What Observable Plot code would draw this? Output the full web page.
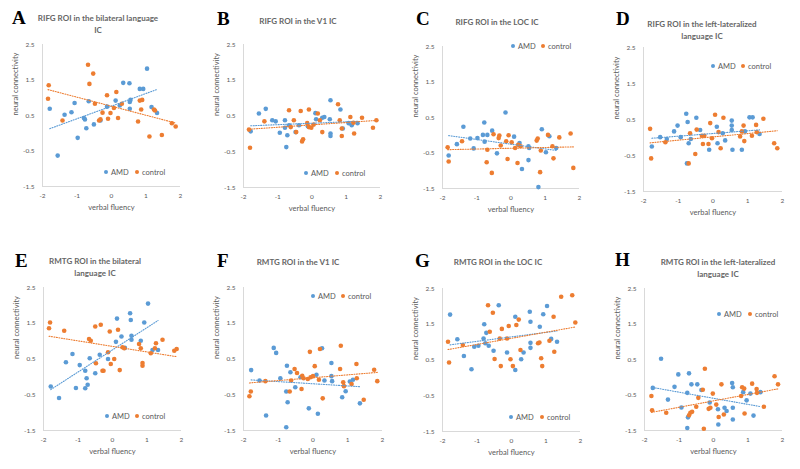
<!DOCTYPE html>
<html><head><meta charset="utf-8">
<script src="https://cdn.jsdelivr.net/npm/d3@7"></script>
<script src="https://cdn.jsdelivr.net/npm/@observablehq/plot@0.6"></script>
<style>
body{margin:0;background:#fff;}
#wrap{position:relative;width:800px;height:469px;overflow:hidden;font-family:Lato,"Open Sans",sans-serif;}
.panel{position:absolute;width:200px;height:235px;}
.panel svg{position:absolute;left:0;top:0;}
.letter{position:absolute;font-family:"Liberation Serif","DejaVu Serif",serif;font-weight:bold;font-size:19px;color:#000;line-height:19px;}
.title{position:absolute;transform:translateX(-50%);text-align:center;font-weight:bold;font-size:8px;color:#666;line-height:12px;white-space:nowrap;}
.leg{position:absolute;font-size:7.5px;color:#595959;white-space:nowrap;line-height:10px;}
.leg i{display:inline-block;width:4px;height:4px;border-radius:50%;margin-right:3px;vertical-align:1px;}
</style></head><body><div id="wrap"></div>
<script>
// ---------- data ----------
const seriesNames = ["AMD", "control"];
const xTicks = [-2, -1, 0, 1, 2];
const yTicks = [-1.5, -0.5, 0.5, 1.5, 2.5];
const letters = ["A","B","C","D","E","F","G","H"];
const titles = [
  ["RIFG ROI in the bilateral language","IC"],
  ["RIFG ROI in the V1 IC"],
  ["RIFG ROI in the LOC IC"],
  ["RIFG ROI in the left-lateralized","language IC"],
  ["RMTG ROI in the bilateral","language IC"],
  ["RMTG ROI in the V1 IC"],
  ["RMTG ROI in the LOC IC"],
  ["RMTG ROI in the left-lateralized","language IC"]
];
const xLabel = "verbal fluency";
const yLabel = "neural connectivity";

const A_AMD = [[-1.79,0.69],[-1.56,-0.63],[-1.36,0.52],[-1.16,0.59],[-1.07,0.85],[-0.98,-0.13],[-0.80,0.43],[-0.77,0.39],[-0.73,0.14],[-0.66,0.90],[-0.51,0.25],[-0.32,0.36],[-0.13,0.75],[0.12,0.92],[0.24,0.78],[0.34,1.42],[0.52,1.41],[0.53,0.88],[0.53,0.69],[0.55,0.94],[0.82,1.25],[0.92,1.25],[1.03,1.82],[1.16,0.74],[1.32,0.57]];
const A_CTL = [[-1.82,1.35],[-1.84,0.97],[-1.42,0.36],[-0.68,1.93],[-0.53,1.68],[-0.64,1.39],[-0.48,0.83],[-0.36,0.36],[-0.32,0.39],[-0.26,0.58],[-0.13,1.07],[-0.10,0.41],[-0.03,0.57],[0.07,0.71],[0.14,1.16],[0.19,0.43],[0.30,0.83],[0.77,0.33],[0.82,0.92],[0.89,0.94],[0.86,0.67],[1.10,-0.09],[1.23,0.67],[1.26,0.64],[1.46,-0.05],[1.75,0.28],[1.86,0.19]];

const B_AMD = [[-1.79,0.07],[-1.55,0.57],[-1.35,0.70],[-1.16,0.38],[-1.06,0.35],[-0.94,0.03],[-0.79,0.38],[-0.79,0.17],[-0.75,-0.37],[-0.72,-0.04],[-0.67,0.24],[-0.48,0.05],[-0.38,0.24],[-0.12,0.21],[0.10,0.58],[0.12,0.41],[0.30,0.45],[0.36,0.47],[0.54,0.94],[0.52,0.41],[0.54,0.01],[0.54,-0.06],[0.83,0.68],[0.90,0.15],[1.07,0.30],[1.16,0.24],[1.33,0.30]];
const B_CTL = [[-1.84,0.12],[-1.81,-0.39],[-1.39,0.35],[-0.67,0.66],[-0.62,0.19],[-0.53,0.38],[-0.46,0.05],[-0.33,0.64],[-0.29,-0.21],[-0.26,-0.15],[-0.14,0.30],[-0.09,0.68],[-0.09,0.19],[-0.02,0.17],[0.05,0.26],[0.17,0.57],[0.23,0.38],[0.30,0.05],[0.76,0.83],[0.81,0.38],[0.87,0.15],[0.87,-0.06],[1.12,0.47],[1.21,0.31],[1.23,0.01],[1.46,0.45],[1.78,0.17],[1.88,0.38]];

const C_AMD = [[-1.82,-0.57],[-1.58,-0.25],[-1.39,0.24],[-1.19,-0.09],[-1.09,-0.37],[-0.98,-0.08],[-0.82,0.01],[-0.78,0.36],[-0.77,-0.18],[-0.69,0.01],[-0.55,0.13],[-0.41,-0.51],[-0.16,0.64],[0.09,-0.04],[0.25,-0.22],[0.32,-0.95],[0.51,-0.31],[0.53,-0.36],[0.51,-0.70],[0.80,-1.46],[0.90,0.17],[1.02,-0.48],[1.12,-0.03],[1.32,-0.36]];
const C_CTL = [[-1.85,-0.34],[-1.82,-0.74],[-1.43,-0.17],[-0.69,-0.41],[-0.71,-0.76],[-0.56,-1.06],[-0.51,0.03],[-0.36,-0.08],[-0.34,-0.01],[-0.30,-0.29],[-0.14,-0.17],[-0.10,-0.67],[-0.07,0.00],[0.02,-0.20],[0.12,-0.36],[0.19,-0.78],[0.21,-0.27],[0.28,-0.31],[0.75,-0.15],[0.78,-0.09],[0.85,-1.04],[0.87,-0.43],[1.08,0.01],[1.21,-0.31],[1.24,-0.65],[1.41,-0.06],[1.74,0.05],[1.82,-0.92]];

const D_AMD = [[-1.76,-0.25],[-1.52,0.01],[-1.33,-0.04],[-1.12,0.17],[-1.02,0.33],[-0.93,0.01],[-0.77,0.66],[-0.73,0.43],[-0.75,-0.72],[-0.70,-0.16],[-0.64,-0.04],[-0.48,0.55],[-0.37,0.21],[-0.11,-0.34],[0.11,0.30],[0.13,-0.16],[0.28,0.12],[0.35,-0.08],[0.54,0.47],[0.54,0.33],[0.54,0.21],[0.56,-0.34],[0.83,-0.34],[0.92,0.17],[1.05,0.56],[1.14,0.56],[1.34,0.10]];
const D_CTL = [[-1.81,0.24],[-1.78,-0.58],[-1.37,-0.13],[-0.70,-0.72],[-0.66,0.12],[-0.51,-0.46],[-0.47,0.22],[-0.32,0.05],[-0.29,-0.18],[-0.25,0.05],[-0.13,-0.18],[-0.08,0.40],[-0.03,-0.02],[0.06,0.63],[0.16,0.15],[0.22,-0.30],[0.30,0.55],[0.78,0.03],[0.83,0.17],[0.88,0.33],[0.90,-0.10],[1.12,0.05],[1.24,0.35],[1.26,0.15],[1.45,0.52],[1.76,-0.16],[1.85,-0.30]];

const E_AMD = [[-1.79,-0.27],[-1.55,-0.59],[-1.35,0.41],[-1.16,0.64],[-1.06,-0.31],[-0.95,0.33],[-0.79,0.17],[-0.79,-0.32],[-0.75,-0.04],[-0.72,-0.22],[-0.66,0.52],[-0.50,0.10],[-0.37,0.62],[-0.13,0.50],[0.10,0.98],[0.13,1.63],[0.26,1.13],[0.36,0.81],[0.51,1.78],[0.53,1.59],[0.55,1.15],[0.55,1.04],[0.82,1.01],[0.92,1.52],[1.03,2.05],[1.16,0.75],[1.32,0.75]];
const E_CTL = [[-1.84,1.36],[-1.81,1.52],[-1.40,1.29],[-0.68,1.06],[-0.63,1.01],[-0.50,1.41],[-0.48,0.38],[-0.34,1.46],[-0.29,0.17],[-0.26,0.17],[-0.13,0.69],[-0.08,1.27],[-0.05,0.36],[0.05,0.50],[0.16,1.32],[0.21,0.19],[0.29,0.83],[0.34,0.80],[0.77,0.92],[0.82,0.80],[0.87,0.39],[0.87,0.31],[1.11,0.66],[1.23,0.80],[1.26,0.94],[1.45,1.04],[1.79,0.73],[1.86,0.78]];

const F_AMD = [[-1.78,0.19],[-1.54,-0.10],[-1.35,-1.08],[-1.13,0.81],[-1.06,0.67],[-0.94,-0.04],[-0.77,-0.41],[-0.77,-1.41],[-0.75,0.31],[-0.73,-0.71],[-0.65,0.13],[-0.51,-0.29],[-0.36,-0.01],[-0.12,-0.88],[0.10,0.06],[0.14,-1.03],[0.26,0.80],[0.33,-0.10],[0.53,0.39],[0.53,0.02],[0.55,-0.12],[0.84,-0.57],[0.94,-0.40],[1.06,-0.13],[1.15,-0.08],[1.35,-0.74]];
const F_CTL = [[-1.83,-0.54],[-1.79,-0.41],[-1.37,-0.12],[-0.67,-0.41],[-0.63,-0.10],[-0.53,0.22],[-0.46,0.11],[-0.33,-0.34],[-0.31,0.03],[-0.27,-0.04],[-0.15,-0.06],[-0.09,0.70],[-0.07,-0.01],[0.00,0.02],[0.05,0.30],[0.17,-0.08],[0.20,0.78],[0.28,-0.60],[0.80,0.87],[0.78,0.22],[0.87,-0.15],[0.89,-0.26],[1.11,-0.20],[1.25,0.36],[1.26,-0.04],[1.46,-0.64],[1.76,0.20],[1.85,-0.12]];

const G_AMD = [[-1.78,1.77],[-1.57,1.08],[-1.38,0.61],[-1.16,0.24],[-1.08,0.87],[-0.96,0.90],[-0.81,1.10],[-0.79,1.50],[-0.76,0.97],[-0.73,1.26],[-0.66,0.90],[-0.52,0.76],[-0.37,2.03],[-0.13,0.71],[0.11,1.71],[0.11,0.22],[0.28,0.52],[0.35,0.71],[0.53,1.85],[0.55,1.57],[0.55,0.98],[0.55,0.84],[0.82,1.43],[0.92,1.78],[1.03,2.01],[1.15,1.09],[1.32,1.01]];
const G_CTL = [[-1.84,1.01],[-1.81,0.43],[-1.41,0.92],[-0.68,2.03],[-0.63,1.29],[-0.54,1.82],[-0.49,0.53],[-0.34,1.10],[-0.31,0.33],[-0.28,1.37],[-0.13,1.10],[-0.08,1.45],[-0.03,0.52],[0.04,0.33],[0.14,1.48],[0.21,1.63],[0.26,0.78],[0.77,0.97],[0.81,0.99],[0.86,0.55],[0.89,0.33],[1.10,1.04],[1.22,1.71],[1.24,0.73],[1.44,2.27],[1.76,2.31],[1.85,1.55]];

const H_AMD = [[-1.76,-0.30],[-1.52,0.52],[-1.32,-0.63],[-1.13,-0.27],[-1.02,0.08],[-0.93,-0.85],[-0.76,-0.44],[-0.74,-1.13],[-0.76,-1.43],[-0.71,0.11],[-0.64,-0.20],[-0.47,-0.20],[-0.35,-0.36],[-0.11,-0.71],[0.13,-0.90],[0.14,-1.33],[0.32,-0.86],[0.38,-0.95],[0.54,-0.16],[0.56,-0.28],[0.56,-0.86],[0.56,-1.19],[0.86,-0.42],[0.96,-0.65],[1.07,-0.46],[1.16,-1.08],[1.36,-0.42]];
const H_CTL = [[-1.80,-0.53],[-1.78,-0.93],[-1.37,-1.00],[-0.71,-1.07],[-0.67,-1.00],[-0.62,-0.97],[-0.50,-0.83],[-0.44,-0.58],[-0.31,-0.35],[-0.25,0.24],[-0.28,-1.45],[-0.14,-0.89],[-0.09,-0.86],[-0.02,-0.46],[0.08,-0.77],[0.15,-1.12],[0.23,-0.20],[0.30,-1.05],[0.80,-0.53],[0.83,-0.28],[0.89,-0.32],[0.90,-1.02],[1.12,-0.18],[1.25,-0.33],[1.26,-0.44],[1.46,-0.83],[1.77,0.03],[1.87,-0.20]];

const amdSeries = [A_AMD,B_AMD,C_AMD,D_AMD,E_AMD,F_AMD,G_AMD,H_AMD];
const ctlSeries = [A_CTL,B_CTL,C_CTL,D_CTL,E_CTL,F_CTL,G_CTL,H_CTL];

// ---------- layout (positions / styles) ----------
const BLUE = "#5B9BD5", ORANGE = "#ED7D31", GRAY = "#595959";
const layout = [
  {ox:0,  oy:0,   m:[44,20,49,42], t:[98,18],  l:[12,12], lg:[173,106,137]},
  {ox:200,oy:0,   m:[44,20,48,43], t:[98,21],  l:[17,13], lg:[174,106,137]},
  {ox:400,oy:0,   m:[46,21,47,42], t:[97,22],  l:[16,13], lg:[47,113,143]},
  {ox:600,oy:0,   m:[47,18,44,43], t:[102,24], l:[16,13], lg:[67,113,143]},
  {ox:0,  oy:235, m:[52,19,40,43], t:[95,26],  l:[15,20], lg:[182,107,137]},
  {ox:200,oy:235, m:[52,18,40,43], t:[98,27],  l:[17,20], lg:[62,113,143]},
  {ox:400,oy:235, m:[53,20,39,42], t:[98,27],  l:[15,20], lg:[183,111,142]},
  {ox:600,oy:235, m:[53,18,40,44], t:[118,27], l:[15,19], lg:[80,119,150]}
];

const wrap = document.getElementById("wrap");
const fmt = d => String(d);

layout.forEach((L, i) => {
  const data = [
    ...amdSeries[i].map(([x, y]) => ({x, y, g: seriesNames[0]})),
    ...ctlSeries[i].map(([x, y]) => ({x, y, g: seriesNames[1]}))
  ];
  const [mt, mr, mb, ml] = L.m;
  const svg = Plot.plot({
    width: 200, height: 235,
    marginTop: mt, marginRight: mr, marginBottom: mb, marginLeft: ml,
    x: {domain: [-2, 2]},
    y: {domain: [-1.5, 2.5]},
    color: {domain: seriesNames, range: [BLUE, ORANGE]},
    style: {fontFamily: "Lato, 'Open Sans', sans-serif", color: GRAY, background: "transparent", overflow: "visible"},
    marks: [
      Plot.ruleX([-2], {stroke: "#d9d9d9"}),
      Plot.ruleY([-1.5], {stroke: "#d9d9d9"}),
      Plot.axisY({ticks: yTicks, tickSize: 0, tickPadding: 8, tickFormat: fmt, fontSize: 6.5, label: null}),
      Plot.axisX({ticks: xTicks, tickSize: 0, tickPadding: 7, tickFormat: fmt, fontSize: 6.5, label: null}),
      Plot.text([yLabel], {frameAnchor: "left", text: d => d, rotate: -90, dx: -27, fontSize: 7.5, fill: GRAY}),
      Plot.text([xLabel], {frameAnchor: "bottom", text: d => d, dy: 23, fontSize: 7.5, fill: GRAY}),
      Plot.dot(data, {x: "x", y: "y", fill: "g", r: 2.3}),
      Plot.linearRegressionY(data, {x: "x", y: "y", stroke: "g", ci: 0, strokeWidth: 1.1, strokeDasharray: "1,1.5"})
    ]
  });
  const p = document.createElement("div");
  p.className = "panel";
  p.style.left = L.ox + "px";
  p.style.top = L.oy + "px";
  p.appendChild(svg);

  const lt = document.createElement("div");
  lt.className = "letter";
  lt.textContent = letters[i];
  lt.style.left = L.l[0] + "px";
  lt.style.top = (L.l[1] - 4) + "px";
  p.appendChild(lt);

  const tt = document.createElement("div");
  tt.className = "title";
  tt.innerHTML = titles[i].join("<br>");
  tt.style.left = L.t[0] + "px";
  tt.style.top = (L.t[1] - 6) + "px";
  p.appendChild(tt);

  [[seriesNames[0], BLUE, L.lg[1]], [seriesNames[1], ORANGE, L.lg[2]]].forEach(([name, col, x]) => {
    const lg = document.createElement("div");
    lg.className = "leg";
    lg.style.left = (x - 2) + "px";
    lg.style.top = (L.lg[0] - 5) + "px";
    lg.innerHTML = `<i style="background:${col}"></i>${name}`;
    p.appendChild(lg);
  });
  wrap.appendChild(p);
});
</script></body></html>
